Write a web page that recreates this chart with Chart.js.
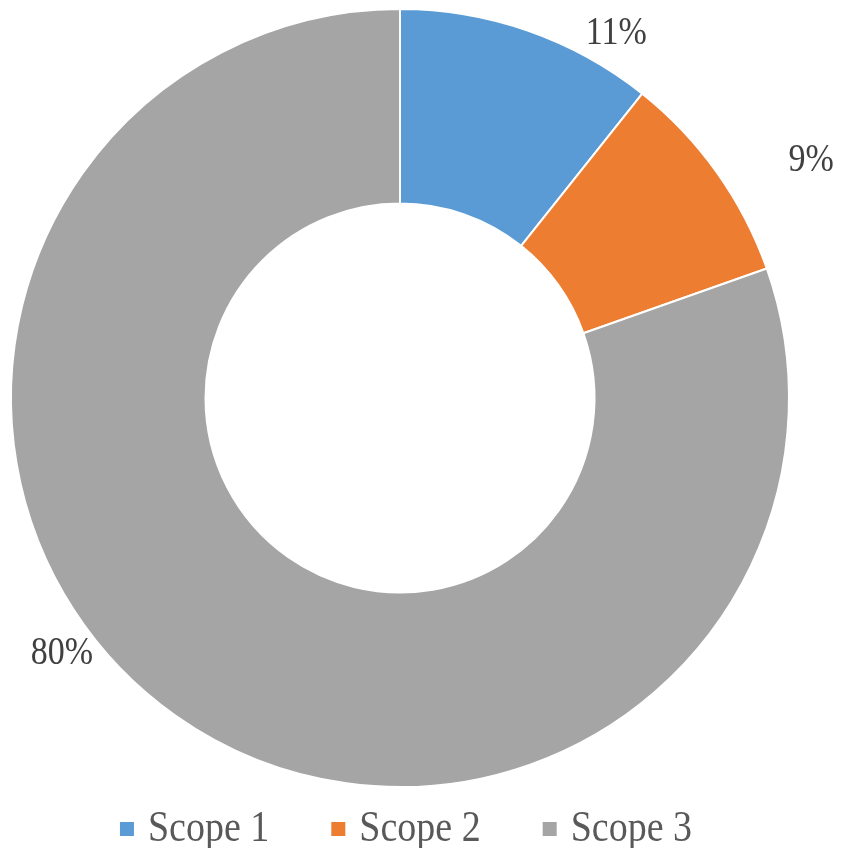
<!DOCTYPE html>
<html>
<head>
<meta charset="utf-8">
<script src="https://cdn.jsdelivr.net/npm/chart.js@4/dist/chart.umd.min.js"></script>
<style>
  html, body { margin: 0; padding: 0; background: #fff; }
  #wrap { width: 841px; height: 848px; }
</style>
</head>
<body>
<div id="wrap"><canvas id="scopeChart" width="841" height="848"></canvas></div>
<script>
const categories = ['Scope 1', 'Scope 2', 'Scope 3'];
const shares = [10.7, 8.9, 80.4];
const sliceColors = ['#5B9BD5', '#ED7D31', '#A5A5A5'];

// where each % label sits relative to its slice (degrees past mid-angle, radius factor)
const labelTurn = [11.4, 5.5, 17.6];
const labelReach = [1.09, 1.22, 1.09];

const serif = "'Liberation Serif', 'Times New Roman', serif";
const textStretch = 1.15;

function stretchedText(ctx, txt, x, y) {
    ctx.save();
    ctx.translate(x, y);
    ctx.scale(1, textStretch);
    ctx.fillText(txt, 0, 0);
    ctx.restore();
}

const outsideLabels = {
    id: 'outsideLabels',
    afterDatasetsDraw(chart) {
        const ctx = chart.ctx;
        const arcs = chart.getDatasetMeta(0).data;
        ctx.save();
        ctx.font = '34px ' + serif;
        ctx.fillStyle = '#404040';
        ctx.textAlign = 'center';
        ctx.textBaseline = 'middle';
        arcs.forEach(function(arc, i) {
            const p = arc.getProps(['x', 'y', 'startAngle', 'endAngle', 'outerRadius'], true);
            const a = (p.startAngle + p.endAngle) / 2 + labelTurn[i] * Math.PI / 180;
            const r = p.outerRadius * labelReach[i];
            stretchedText(ctx, Math.round(shares[i]) + '%', p.x + Math.cos(a) * r, p.y + Math.sin(a) * r);
        });
        ctx.restore();
    }
};

const bottomLegend = {
    id: 'bottomLegend',
    afterDraw(chart) {
        const ctx = chart.ctx;
        const arc = chart.getDatasetMeta(0).data[0];
        const box = 14, gap = 14, spacing = 62;
        ctx.save();
        ctx.font = '38px ' + serif;
        const widths = categories.map(c => ctx.measureText(c).width);
        let total = widths.reduce((s, w) => s + box + gap + w, 0) + spacing * (categories.length - 1);
        let x = arc.x + 6 - total / 2;
        const y = 829;
        ctx.textBaseline = 'middle';
        categories.forEach(function(c, i) {
            ctx.fillStyle = sliceColors[i];
            ctx.fillRect(x, y - box / 2, box, box);
            x += box + gap;
            ctx.fillStyle = '#595959';
            stretchedText(ctx, c, x, y + 1);
            x += widths[i] + spacing;
        });
        ctx.restore();
    }
};

const ctx = document.getElementById('scopeChart').getContext('2d');
new Chart(ctx, {
    type: 'doughnut',
    data: {
        labels: categories,
        datasets: [{
            data: shares,
            backgroundColor: sliceColors,
            borderColor: '#ffffff',
            borderWidth: 2
        }]
    },
    options: {
        responsive: false,
        animation: false,
        cutout: '50%',
        layout: {
            padding: { left: 10, right: 51, top: 8, bottom: 60 }
        },
        plugins: {
            legend: { display: false },
            tooltip: { enabled: false }
        }
    },
    plugins: [outsideLabels, bottomLegend]
});
</script>
</body>
</html>
